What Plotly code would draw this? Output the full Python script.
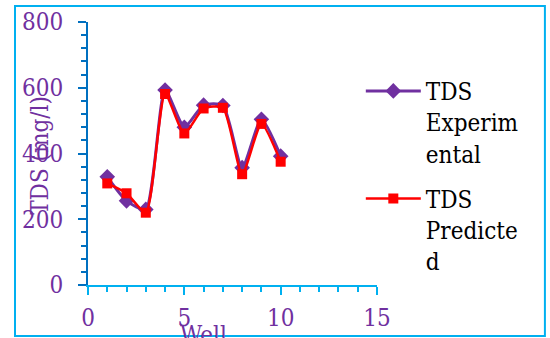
import plotly.graph_objects as go

wells = [1, 2, 3, 4, 5, 6, 7, 8, 9, 10]
tds_experimental = [329, 256, 230, 593, 480, 547, 546, 357, 504, 392]
tds_predicted = [309, 279, 220, 581, 461, 537, 539, 337, 490, 375]

x_ticks = [0, 5, 10, 15]
y_ticks = [0, 200, 400, 600, 800]

FONT = "DejaVu Serif Condensed, DejaVu Serif, serif"
PURPLE = "#7030A0"
RED = "#FF0000"
CYAN = "#00B0F0"
BLUE = "#0070C0"

fig = go.Figure()
fig.add_trace(go.Scatter(
    x=wells, y=tds_experimental, mode="lines+markers",
    name="TDS<br>Experim<br>ental", legendgroup="a",
    line=dict(color=PURPLE, width=3, shape="spline", smoothing=0.6),
    marker=dict(symbol="diamond", size=12, color=PURPLE),
))
fig.add_trace(go.Scatter(
    x=wells, y=tds_predicted, mode="lines+markers",
    name="TDS<br>Predicte<br>d", legendgroup="b",
    line=dict(color=RED, width=2.5, shape="spline", smoothing=0.6),
    marker=dict(symbol="square", size=10, color=RED),
))

fig.update_layout(
    template="none",
    width=550, height=338,
    margin=dict(l=88, r=173, t=22, b=53, autoexpand=False),
    paper_bgcolor="white", plot_bgcolor="white",
    font=dict(family=FONT, size=24, color=PURPLE),
    showlegend=True,
    legend=dict(
        x=0.944, y=0.822, xanchor="left", yanchor="top",
        font=dict(family=FONT, size=24, color="black"),
        valign="top", itemwidth=55, traceorder="grouped", tracegroupgap=11,
        bgcolor="rgba(0,0,0,0)", borderwidth=0,
    ),
    xaxis=dict(
        range=[0, 15], tickvals=x_ticks, showgrid=False, zeroline=False,
        automargin=False,
        showline=True, linecolor=CYAN, linewidth=2,
        ticks="outside", ticklen=8, tickwidth=2, tickcolor=CYAN,
        ticklabelstandoff=2,
        minor=dict(dtick=1, ticks="outside", ticklen=5, tickwidth=1.5, tickcolor=CYAN, showgrid=False),
        tickfont=dict(family=FONT, size=24, color=PURPLE),
    ),
    yaxis=dict(
        range=[0, 800], tickvals=y_ticks, showgrid=False, zeroline=False,
        automargin=False,
        showline=True, linecolor=BLUE, linewidth=2,
        ticks="outside", ticklen=8, tickwidth=2, tickcolor=BLUE,
        ticklabelstandoff=10,
        minor=dict(dtick=40, ticks="outside", ticklen=5, tickwidth=1.5, tickcolor=BLUE, showgrid=False),
        tickfont=dict(family=FONT, size=24, color=PURPLE),
    ),
    annotations=[
        dict(text="TDS (mg/l)", xref="paper", yref="paper", x=-0.167, y=0.494,
             textangle=-90, showarrow=False, xanchor="center", yanchor="middle",
             font=dict(family=FONT, size=24, color=PURPLE)),
        dict(text="Well", xref="paper", yref="paper", x=0.40, y=-0.128,
             showarrow=False, xanchor="center", yanchor="top",
             font=dict(family=FONT, size=24, color=PURPLE)),
    ],
    shapes=[
        dict(type="rect", xref="paper", yref="paper", x0=-0.2526, x1=1.581,
             y0=-0.194, y1=1.061, line=dict(color=CYAN, width=2), layer="above"),
    ],
)

fig.write_html("out.html")
